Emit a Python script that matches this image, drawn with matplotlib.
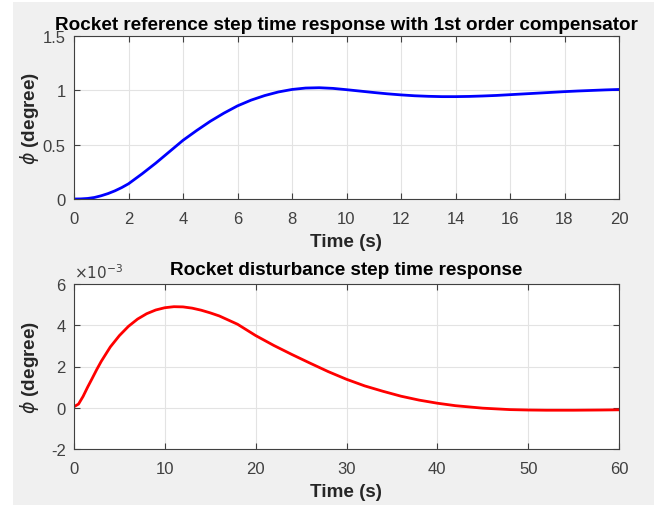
import numpy as np
import matplotlib.pyplot as plt
from matplotlib.patches import Rectangle

plt.rcParams['font.family'] = ['Liberation Sans', 'DejaVu Sans']
plt.rcParams['axes.unicode_minus'] = False

# reference step response (degree)
t_ref = [0, 0.25, 0.5, 0.75, 1, 1.25, 1.5, 1.75, 2, 2.5, 3, 3.5, 4, 4.5, 5, 5.5, 6,
         6.5, 7, 7.5, 8, 8.5, 9, 9.5, 10, 10.5, 11, 11.5, 12, 12.5, 13, 13.5, 14,
         14.5, 15, 15.5, 16, 16.5, 17, 17.5, 18, 18.5, 19, 19.5, 20]
phi_ref = [0, 0.001, 0.005, 0.014, 0.03, 0.05, 0.075, 0.105, 0.14, 0.232, 0.33, 0.435,
           0.54, 0.63, 0.715, 0.79, 0.857, 0.91, 0.952, 0.985, 1.008, 1.021, 1.024,
           1.018, 1.006, 0.993, 0.98, 0.968, 0.958, 0.95, 0.945, 0.942, 0.942, 0.944,
           0.948, 0.953, 0.96, 0.967, 0.974, 0.981, 0.988, 0.994, 0.999, 1.004, 1.008]

# disturbance step response (x1e-3 degree)
t_dist = [0, 0.5, 1, 1.5, 2, 2.5, 3, 4, 5, 6, 7, 8, 9, 10, 11, 12, 13, 14, 15, 16, 18,
          20, 22, 24, 26, 28, 30, 32, 34, 36, 38, 40, 42, 45, 48, 50, 52, 55, 58, 60]
phi_dist = [0.05, 0.18, 0.55, 1.0, 1.42, 1.85, 2.25, 2.95, 3.5, 3.95, 4.3, 4.56, 4.74,
            4.85, 4.9, 4.89, 4.83, 4.73, 4.6, 4.45, 4.05, 3.5, 3.02, 2.58, 2.16, 1.75,
            1.38, 1.06, 0.8, 0.56, 0.37, 0.22, 0.1, -0.02, -0.09, -0.11, -0.12, -0.12,
            -0.11, -0.1]

fig = plt.figure(figsize=(6.54, 5.06), dpi=100)
fig.patch.set_facecolor('white')
fig.patches.append(Rectangle((13 / 654, 0), 1, 1 - 3 / 506, transform=fig.transFigure,
                             facecolor='#f0f0f0', edgecolor='none', zorder=-10))

ax1 = fig.add_axes([74 / 654, 1 - 200 / 506, 545 / 654, 163 / 506])
ax2 = fig.add_axes([74 / 654, 1 - 450 / 506, 545 / 654, 165 / 506])

ax1.plot(t_ref, phi_ref, color='blue', lw=2)
ax1.set_xlim(0, 20)
ax1.set_ylim(0, 1.5)
ax1.set_xticks(np.arange(0, 21, 2))
ax1.set_yticks([0, 0.5, 1, 1.5])
ax1.set_yticklabels(['0', '0.5', '1', '1.5'])
ax1.set_title('Rocket reference step time response with 1st order compensator',
              fontsize=13.6, fontweight='bold', pad=5)

# values are in units of 1e-3, exponent shown above the axis like MATLAB
ax2.plot(t_dist, phi_dist, color='red', lw=2)
ax2.set_xlim(0, 60)
ax2.set_ylim(-2, 6)
ax2.set_xticks(np.arange(0, 61, 10))
ax2.set_yticks(np.arange(-2, 7, 2))
ax2.text(0.0, 1.02, r'$\times10^{-3}$', transform=ax2.transAxes, fontsize=11,
         color='#404040', ha='left', va='bottom')
ax2.set_title('Rocket disturbance step time response',
              fontsize=13.6, fontweight='bold', pad=7)

for ax in (ax1, ax2):
    ax.set_facecolor('white')
    ax.grid(True, color='#e3e3e3', lw=0.8)
    ax.set_axisbelow(True)
    ax.tick_params(direction='in', top=True, right=True, labelsize=12,
                   labelcolor='#404040', color='#404040', length=4)
    ax.tick_params(axis='x', pad=9)
    ax.tick_params(axis='y', pad=6)
    for s in ax.spines.values():
        s.set_color('#404040')
        s.set_linewidth(0.8)
    ax.set_xlabel('Time (s)', fontsize=13.6, fontweight='bold', color='#262626',
                  labelpad=5)
    ax.set_ylabel(r'$\phi$ (degree)', fontsize=13.6, fontweight='bold', color='#262626')
    ax.yaxis.set_label_coords(-0.06, 0.5)

fig.savefig('out.png', dpi=100, facecolor=fig.get_facecolor())
